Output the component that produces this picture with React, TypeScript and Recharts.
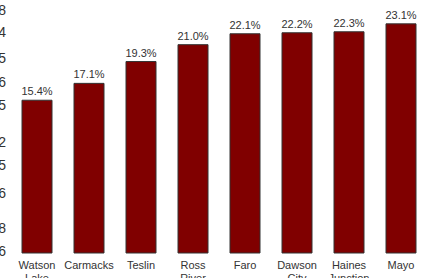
import React from 'react';
import { BarChart, Bar, XAxis, YAxis, LabelList } from 'recharts';

// --- Data ---
const COMMUNITIES = ['Watson Lake', 'Carmacks', 'Teslin', 'Ross River', 'Faro', 'Dawson City', 'Haines Junction', 'Mayo'];
const RATES = [15.4, 17.1, 19.3, 21.0, 22.1, 22.2, 22.3, 23.1];

// clipped digits left over at the left edge of the picture
const EDGE_DIGITS = ['8', '4', '5', '6', '5', '2', '5', '6', '8', '6'];
const EDGE_DIGIT_Y = [15, 37, 63, 87, 110, 147, 170, 198, 233, 256];

const BAR_COLOR = '#800000';
const TEXT_COLOR = '#333333';
const FONT = 'Arial, "Liberation Sans", sans-serif';

const data = COMMUNITIES.map((name, i) => ({ name, value: RATES[i] }));

function WrappedTick({ x, y, payload }: any) {
  const words = String(payload.value).split(' ');
  return (
    <text x={x} y={y} textAnchor="middle" fill={TEXT_COLOR} fontSize={11} fontFamily={FONT}>
      {words.map((w, i) => (
        <tspan key={w} x={x} dy={i === 0 ? 8 : 13}>
          {w}
        </tspan>
      ))}
    </text>
  );
}

export default function App() {
  return (
    <div style={{ position: 'relative', width: 421, height: 278, overflow: 'hidden', background: '#fff' }}>
      <style>{'body{margin:0}'}</style>
      <BarChart
        width={430}
        height={278}
        data={data}
        margin={{ top: 5, right: 3, left: 11, bottom: 0 }}
      >
        <XAxis
          dataKey="name"
          axisLine={false}
          tickLine={false}
          interval={0}
          height={25}
          tick={<WrappedTick />}
        />
        <YAxis hide domain={[0, 25]} />
        <Bar dataKey="value" fill={BAR_COLOR} stroke="#333" strokeWidth={1} barSize={30} isAnimationActive={false}>
          <LabelList
            dataKey="value"
            position="top"
            offset={5}
            formatter={(v: any) => `${Number(v).toFixed(1)}%`}
            fill={TEXT_COLOR}
            fontSize={11}
            fontFamily={FONT}
          />
        </Bar>
      </BarChart>
      <svg width={20} height={278} style={{ position: 'absolute', left: 0, top: 0 }}>
        {EDGE_DIGITS.map((d, i) => (
          <text key={i} x={6} y={EDGE_DIGIT_Y[i]} textAnchor="end" fontSize={14} fontFamily={FONT} fill={TEXT_COLOR}>
            {d}
          </text>
        ))}
      </svg>
    </div>
  );
}
